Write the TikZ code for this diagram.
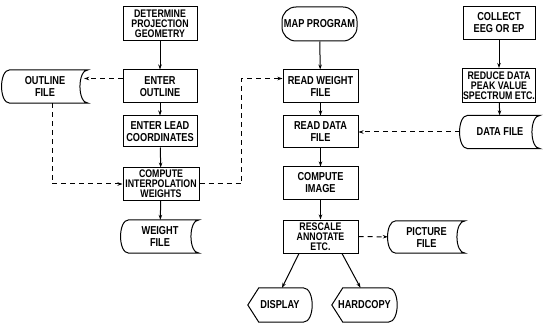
\documentclass[tikz,border=0pt]{standalone}
\usepackage{fontspec}
\newfontfamily\chartfont[FakeStretch=0.8]{Liberation Sans}
\usetikzlibrary{calc,arrows.meta}
\def\filedraw(#1){\draw[line width=1pt] ($(#1.north west)+(8,0)$) -- (#1.north east) .. controls ($(#1.north east)+(-11,0)$) and ($(#1.south east)+(-11,0)$) .. (#1.south east) -- ($(#1.south west)+(8,0)$) .. controls ($(#1.south west)+(-3,0)$) and ($(#1.north west)+(-3,0)$) .. ($(#1.north west)+(8,0)$) -- cycle;}
\def\screendraw(#1){\draw[line width=1pt] ($(#1.north west)+(11,0)$) -- (#1.west) -- ($(#1.south west)+(11,0)$) -- ($(#1.south east)+(-9,0)$) .. controls ($(#1.south east)+(3,0)$) and ($(#1.north east)+(3,0)$) .. ($(#1.north east)+(-9,0)$) -- cycle;}
\tikzset{
  chart/.style={align=center, inner sep=1pt, font=\chartfont\bfseries\fontsize{11.5}{12}\selectfont},
  box/.style={chart, draw, line width=1pt, minimum width=75, minimum height=33},
  tightbox/.style={box, font=\chartfont\bfseries\fontsize{11}{10}\selectfont},
  filebox/.style={chart, minimum width=78, minimum height=33},
  screenbox/.style={chart, minimum width=64, minimum height=34},
  flow/.style={line width=1pt, -{Stealth[length=5pt,width=3.5pt]}},
  dataflow/.style={flow, dash pattern=on 5pt off 4pt}
}
\begin{document}
\begin{tikzpicture}[x=1pt,y=-1pt]
			%%%%% START %%%%%
			\useasboundingbox (0,0) rectangle (543,323);
			
			% left column
			\node[tightbox, minimum width=74, minimum height=34] (geom) at (160,24) {DETERMINE\\PROJECTION\\GEOMETRY};
			\node[box, minimum width=74] (outline) at (160,86.5) {ENTER\\OUTLINE};
			\node[box, minimum width=74, minimum height=31] (lead) at (160,131.5) {ENTER LEAD\\COORDINATES};
			\node[tightbox, minimum width=76, minimum height=32] (interp) at (161,184) {COMPUTE\\INTERPOLATION\\WEIGHTS};
			\node[filebox] (weightfile) at (160,236.5) {WEIGHT\\FILE};
			\node[filebox, minimum width=86] (outlinefile) at (45,86.5) {OUTLINE\\FILE};
			
			% map program
			\node[box, rounded corners=14pt, minimum height=34] (mapprog) at (319.5,24) {MAP PROGRAM};
			\node[box] (readweight) at (320.5,86.5) {READ WEIGHT\\FILE};
			\node[box, minimum height=32] (readdata) at (320.5,132) {READ DATA\\FILE};
			\node[box, minimum height=32] (compimg) at (320.5,183) {COMPUTE\\IMAGE};
			\node[tightbox] (rescale) at (320.5,236.5) {RESCALE\\ANNOTATE\\ETC.};
			\node[filebox, minimum width=77, minimum height=32] (picfile) at (426.5,237) {PICTURE\\FILE};
			\node[screenbox] (display) at (280,305) {DISPLAY};
			\node[screenbox, minimum width=65] (hardcopy) at (364.5,305) {HARDCOPY};
			
			% data collection
			\node[box, minimum width=72] (collect) at (499,23) {COLLECT\\EEG OR EP};
			\node[tightbox, minimum width=72, minimum height=34] (reduce) at (499,85.5) {REDUCE DATA\\PEAK VALUE\\SPECTRUM ETC.};
			\node[filebox, minimum width=80] (datafile) at (500,132) {DATA FILE};
			
			\filedraw(weightfile)
			\filedraw(outlinefile)
			\filedraw(picfile)
			\filedraw(datafile)
			\screendraw(display)
			\screendraw(hardcopy)
			
			\draw[flow] (geom) -- (outline);
			\draw[flow] (outline) -- (lead);
			\draw[flow] (lead) -- (interp);
			\draw[flow] (interp) -- (weightfile);
			\draw[dataflow] ($(outline.west)+(0,-8)$) -- ($(outlinefile.east)+(-4,-8)$);
			\draw[dataflow] ($(outlinefile.south)+(7,0)$) |- (interp.west);
			\draw[dataflow] (interp.east) -- ++(42,0) |- ($(readweight.west)+(0,-8)$);
			
			\draw[flow] (mapprog) -- (readweight);
			\draw[flow] (readweight) -- (readdata);
			\draw[flow] (readdata) -- (compimg);
			\draw[flow] (compimg) -- (rescale);
			\draw[dataflow] (rescale) -- (picfile);
			\draw[flow] ($(rescale.south)+(-21.5,0)$) -- ($(display.north)+(2,0)$);
			\draw[flow] ($(rescale.south)+(21.5,0)$) -- ($(hardcopy.north)+(-4,0)$);
			
			\draw[flow] (collect) -- (reduce);
			\draw[flow] (reduce) -- (datafile);
			\draw[dataflow] (datafile) -- (readdata);
			%%%%% END %%%%%
\end{tikzpicture}
\end{document}
